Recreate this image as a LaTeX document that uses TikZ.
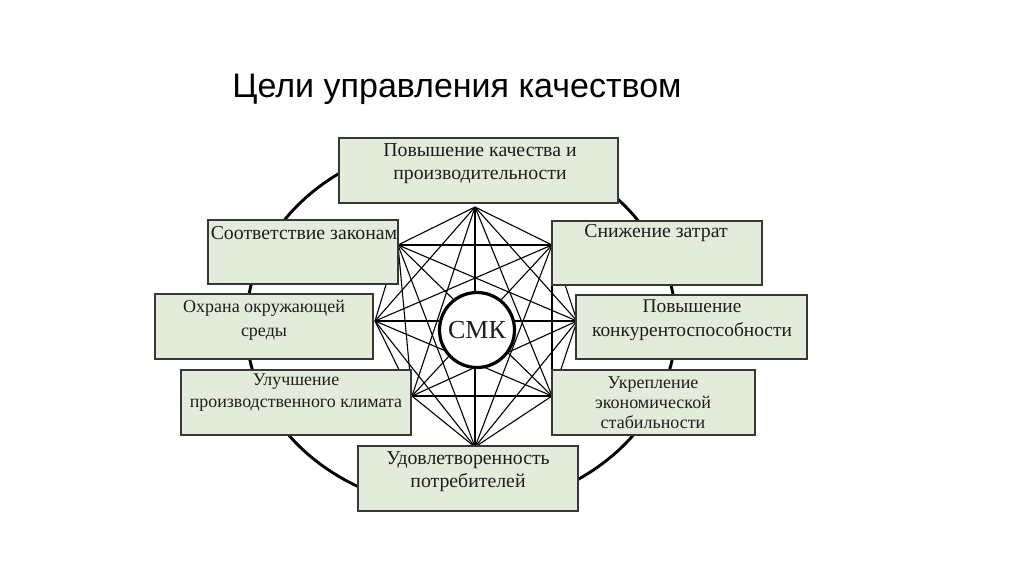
\documentclass[tikz,border=0pt]{standalone}
\usepackage{fontspec}
\setmainfont{Liberation Serif}
\newfontfamily\titlefont{Liberation Sans}
\definecolor{boxfill}{RGB}{227,236,218}
\definecolor{boxline}{RGB}{55,55,55}
\definecolor{txtcol}{RGB}{30,30,30}
\begin{document}
\begin{tikzpicture}[x=1pt,y=-1pt,
  goalbox/.style={draw=boxline,line width=1.5pt,fill=boxfill,rectangle,inner sep=0pt},
  goaltxt/.style={text=txtcol,align=center,inner sep=0pt,font=\fontsize{19.8}{23.5}\selectfont},
  starline/.style={line width=1.1pt,black},
]
\useasboundingbox (0,0) rectangle (1024,574);
\fill[white] (0,0) rectangle (1024,574);
% title
\node[font=\titlefont\fontsize{34}{40}\selectfont,text=black,inner sep=0pt,anchor=base] (title) at (457,97) {Цели управления качеством};
% outer ellipse
\draw[line width=2.9pt,black] (461,325) ellipse [x radius=215, y radius=184];
% star vertices
\coordinate (v1) at (475,207);
\coordinate (v2) at (552,245);
\coordinate (v3) at (577,321);
\coordinate (v4) at (552,396);
\coordinate (v5) at (475,447);
\coordinate (v6) at (412,396);
\coordinate (v7) at (375,321);
\coordinate (v8) at (398,245);
\foreach \i [evaluate=\i as \n using int(\i+1)] in {1,...,7} {
  \foreach \j in {\n,...,8} { \draw[starline] (v\i) -- (v\j); }
}
% centre circle
\node[circle,draw=black,line width=3.2pt,fill=white,minimum size=75pt,inner sep=0pt,
      font=\fontsize{26}{30}\selectfont,text=txtcol] (cmk) at (477,330) {СМК};
% boxes
\node[goalbox,minimum width=279pt,minimum height=65pt] (top) at (478.5,170.5) {};
\node[goalbox,minimum width=190pt,minimum height=64pt] (sootv) at (303,252) {};
\node[goalbox,minimum width=210pt,minimum height=64pt] (snizh) at (657,253) {};
\node[goalbox,minimum width=218pt,minimum height=65pt] (ohrana) at (264,326.5) {};
\node[goalbox,minimum width=231pt,minimum height=64pt] (konk) at (691.5,327) {};
\node[goalbox,minimum width=230pt,minimum height=65pt] (uluch) at (296,402.5) {};
\node[goalbox,minimum width=203pt,minimum height=65pt] (ukrep) at (653.5,402.5) {};
\node[goalbox,minimum width=220pt,minimum height=65pt] (bottom) at (468,478.5) {};
% texts
\node[goaltxt] (ttop) at (480,163.5) {Повышение качества и\\производительности};
\node[goaltxt] (tsootv) at (304,233) {Соответствие законам};
\node[goaltxt] (tsnizh) at (656,233) {Снижение затрат};
\node[goaltxt,font=\fontsize{18}{23.5}\selectfont] (tohrana) at (264,320) {Охрана окружающей\\среды};
\node[goaltxt,font=\fontsize{19.4}{23.5}\selectfont] (tkonk) at (692,320) {Повышение\\конкурентоспособности};
\node[goaltxt,font=\fontsize{17.9}{21.5}\selectfont] (tuluch) at (296,392.5) {Улучшение\\производственного климата};
\node[goaltxt,font=\fontsize{18}{20}\selectfont] (tukrep) at (653,403) {Укрепление\\экономической\\стабильности};
\node[goaltxt] (tbottom) at (468,471.5) {Удовлетворенность\\потребителей};
\end{tikzpicture}
\end{document}
